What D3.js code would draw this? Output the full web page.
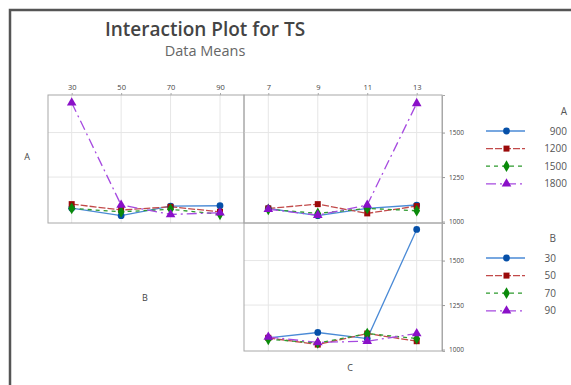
<!DOCTYPE html>
<html>
<head>
<meta charset="utf-8">
<title>Interaction Plot for TS</title>
<script src="https://d3js.org/d3.v7.min.js"></script>
<style>
    html, body { margin: 0; padding: 0; background: #fff; }
    svg text { font-family: "Open Sans", "Noto Sans", sans-serif; }
</style>
</head>
<body>
<div id="graph"></div>
<script>
    // factor levels
    var aLevels = ["900", "1200", "1500", "1800"];
    var bLevels = ["30", "50", "70", "90"];
    var cLevels = ["7", "9", "11", "13"];
    var yTicks = [1000, 1250, 1500];

    // means of TS, one row per line level
    var abMeans = [            // x = B, lines = A
        [1075, 1033, 1087, 1089],
        [1098, 1065, 1083, 1055],
        [1074, 1055, 1069, 1041],
        [1667, 1093, 1040, 1050]
    ];
    var acMeans = [            // x = C, lines = A
        [1074, 1033, 1074, 1093],
        [1074, 1098, 1046, 1087],
        [1069, 1046, 1074, 1061],
        [1069, 1036, 1093, 1664]
    ];
    var bcMeans = [            // x = C, lines = B
        [1066, 1096, 1062, 1675],
        [1066, 1028, 1090, 1047],
        [1058, 1037, 1090, 1062],
        [1071, 1040, 1047, 1090]
    ];

    var lineCol = ["#4a8ad6", "#c24a4a", "#2e9a2e", "#a64ae0"];
    var markCol = ["#0650a8", "#9b0a0a", "#0a8a0a", "#8a10c8"];
    var dashes = [null, "7,2", "4,4", "10,4,2,4"];
    var shapes = [d3.symbolCircle, d3.symbolSquare, d3.symbolDiamond, d3.symbolTriangle];
    var sizes = [36, 36, 40, 40];

    var svg = d3.select("#graph").append("svg")
        .attr("width", 571).attr("height", 385);

    // outer frame
    svg.append("path")
        .attr("d", "M10,390 V10 H580")
        .attr("fill", "none").attr("stroke", "#555").attr("stroke-width", 2.5);

    svg.append("text").attr("x", 205).attr("y", 36)
        .attr("text-anchor", "middle").attr("font-size", 19).attr("font-weight", 600)
        .attr("fill", "#444").text("Interaction Plot for TS");
    svg.append("text").attr("x", 205).attr("y", 56)
        .attr("text-anchor", "middle").attr("font-size", 14.5)
        .attr("fill", "#666").text("Data Means");

    var xB = d3.scalePoint().domain(bLevels).range([71.7, 220]);
    var xC = d3.scalePoint().domain(cLevels).range([268.3, 416.7]);
    var yTop = d3.scaleLinear().domain([992, 1711]).range([223, 95]);
    var yBot = d3.scaleLinear().domain([992, 1711]).range([351, 223]);

    function panel(x, y, x0, x1, data) {
        var g = svg.append("g");
        var y0 = y.range()[0], y1 = y.range()[1];
        // grid
        g.selectAll(".vg").data(x.domain()).enter().append("line")
            .attr("x1", function(d) { return x(d); }).attr("x2", function(d) { return x(d); })
            .attr("y1", y1).attr("y2", y0).attr("stroke", "#e6e6e6");
        g.selectAll(".hg").data(yTicks.slice(1)).enter().append("line")
            .attr("x1", x0).attr("x2", x1)
            .attr("y1", function(d) { return y(d); }).attr("y2", function(d) { return y(d); })
            .attr("stroke", "#e6e6e6");
        g.append("rect").attr("x", x0).attr("y", y1)
            .attr("width", x1 - x0).attr("height", y0 - y1)
            .attr("fill", "none").attr("stroke", "#a8a8a8");

        var line = d3.line()
            .x(function(d, i) { return x(x.domain()[i]); })
            .y(function(d) { return y(d); });
        data.forEach(function(row, k) {
            g.append("path").attr("d", line(row))
                .attr("fill", "none").attr("stroke", lineCol[k]).attr("stroke-width", 1.3)
                .attr("stroke-dasharray", dashes[k]);
        });
        data.forEach(function(row, k) {
            g.selectAll(".m" + k).data(row).enter().append("path")
                .attr("d", d3.symbol().type(shapes[k]).size(sizes[k]))
                .attr("transform", function(d, i) {
                    return "translate(" + x(x.domain()[i]) + "," + y(d) + ")";
                })
                .attr("fill", markCol[k]);
        });
    }

    panel(xB, yTop, 48, 244, abMeans);
    panel(xC, yTop, 244, 442, acMeans);
    panel(xC, yBot, 244, 442, bcMeans);

    // top axes
    function topAxis(x) {
        var g = svg.append("g").attr("transform", "translate(0,95)")
            .call(d3.axisTop(x).tickSize(2).tickPadding(3));
        g.select(".domain").remove();
        g.selectAll(".tick line").attr("stroke", "#aaa");
        g.selectAll(".tick text").attr("font-size", 7.5).attr("fill", "#444")
            .style("font-family", "'Open Sans', sans-serif");
    }
    topAxis(xB);
    topAxis(xC);

    // right axes
    function rightAxis(y) {
        var g = svg.append("g").attr("transform", "translate(442,0)")
            .call(d3.axisRight(y).tickValues(yTicks).tickFormat(d3.format("d"))
                .tickSize(3).tickPadding(4));
        g.select(".domain").attr("stroke", "#a8a8a8");
        g.selectAll(".tick line").attr("stroke", "#999");
        g.selectAll(".tick text").attr("font-size", 6.5).attr("fill", "#444")
            .style("font-family", "'Open Sans', sans-serif");
    }
    rightAxis(yTop);
    rightAxis(yBot);

    // factor labels
    svg.append("text").attr("x", 27).attr("y", 160).attr("text-anchor", "middle")
        .attr("font-size", 9).attr("fill", "#444").text("A");
    svg.append("text").attr("x", 145).attr("y", 301).attr("text-anchor", "middle")
        .attr("font-size", 9).attr("fill", "#444").text("B");
    svg.append("text").attr("x", 350).attr("y", 371).attr("text-anchor", "middle")
        .attr("font-size", 9).attr("fill", "#444").text("C");

    // legends
    function legend(title, labels, top, right) {
        var g = svg.append("g");
        g.append("text").attr("x", right).attr("y", top).attr("text-anchor", "end")
            .attr("font-size", 10).attr("fill", "#555").text(title);
        labels.forEach(function(lab, k) {
            var yy = top + 16 + k * 17.6;
            g.append("line").attr("x1", 486).attr("x2", 525).attr("y1", yy).attr("y2", yy)
                .attr("stroke", lineCol[k]).attr("stroke-width", 1.3)
                .attr("stroke-dasharray", dashes[k]);
            g.append("path").attr("d", d3.symbol().type(shapes[k]).size(sizes[k]))
                .attr("transform", "translate(506.5," + yy + ")").attr("fill", markCol[k]);
            g.append("text").attr("x", right).attr("y", yy + 3.5).attr("text-anchor", "end")
                .attr("font-size", 10).attr("fill", "#555").text(lab);
        });
    }
    legend("A", aLevels, 115, 567);
    legend("B", bLevels, 242, 556);
</script>
</body>
</html>
